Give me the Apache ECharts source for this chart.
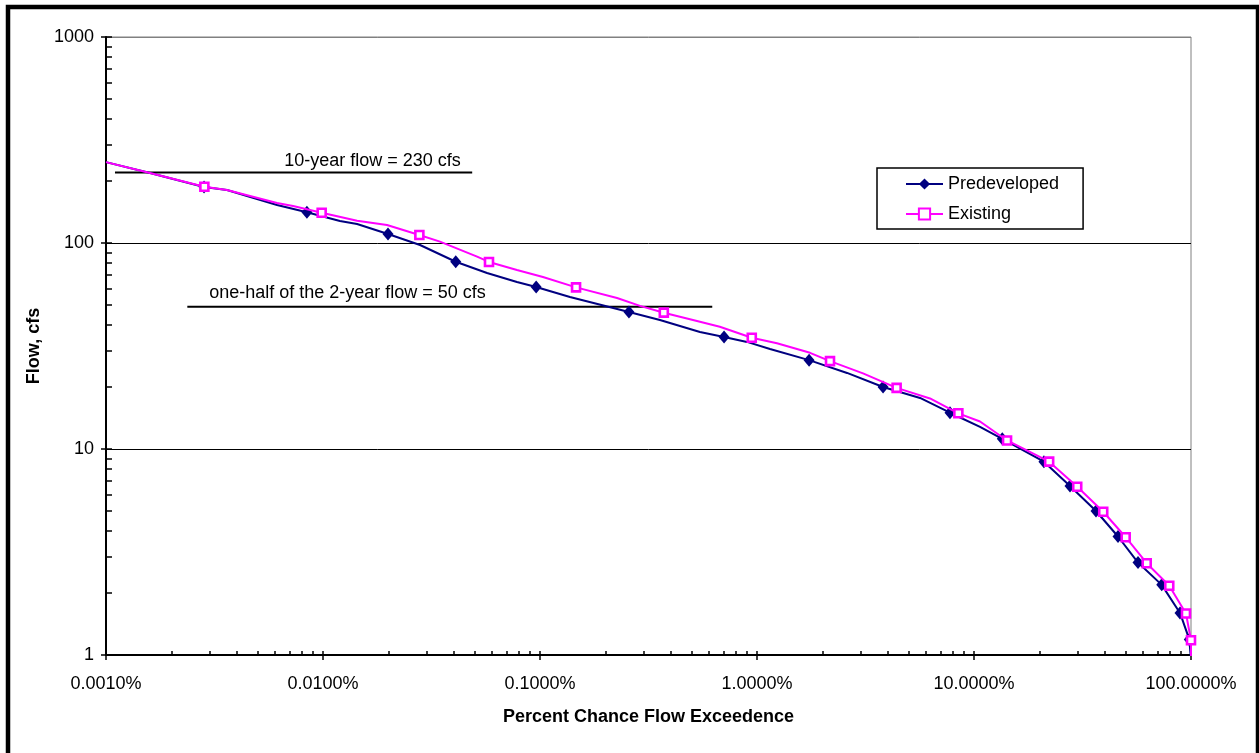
<!DOCTYPE html>
<html><head><meta charset="utf-8">
<script src="https://cdn.jsdelivr.net/npm/echarts@6/dist/echarts.min.js"></script>
<style>html,body{margin:0;padding:0;background:#fff}#c{width:1259px;height:753px}</style>
</head><body><div id="c"></div>
<script>
// ---- data ----
const xMajor = [0.001, 0.01, 0.1, 1, 10, 100];
const yMajor = [1, 10, 100, 1000];

const predevX = [0.001, 0.001595, 0.00283, 0.00361, 0.00614, 0.00843, 0.01197, 0.01436, 0.01993, 0.028,
  0.0409, 0.057, 0.0783, 0.096, 0.1374, 0.257, 0.357, 0.546, 0.705, 0.899,
  1.148, 1.738, 2.60, 3.81, 5.64, 7.75, 10.66, 13.5, 21.0, 27.7,
  36.5, 46.1, 57.0, 73.3, 89.0, 98.2, 100];
const predevY = [247, 218.8, 187, 180.8, 152.9, 141, 127.9, 123.7, 110.6, 97.8,
  81.1, 71.5, 64.7, 61.1, 54.7, 46.2, 42.3, 37.0, 35.0, 33.1,
  30.6, 27.0, 23.4, 20.0, 17.7, 15.0, 12.8, 11.2, 8.68, 6.61,
  5.00, 3.76, 2.81, 2.19, 1.60, 1.19, 0.95];
const predevMarker = [0,0,1,0,0,1,0,0,1,0, 1,0,0,1,0,1,0,0,1,0, 0,1,0,1,0,1,0,1,1,1, 1,1,1,1,1,1,0];

const existX = [0.001, 0.001595, 0.00284, 0.00361, 0.00614, 0.00728, 0.00986, 0.01436, 0.01972, 0.0278,
  0.0346, 0.0513, 0.0582, 0.0783, 0.1032, 0.1466, 0.2265, 0.289, 0.372, 0.507,
  0.674, 0.946, 1.236, 1.755, 2.17, 3.08, 4.40, 6.27, 8.47, 10.66,
  14.2, 22.2, 29.9, 39.4, 50.0, 62.5, 79.4, 94.8, 100, 100];
const existY = [247, 218.8, 187.6, 180.8, 156.4, 151.3, 140.3, 128.3, 122.3, 109.3,
  101.5, 85.9, 80.9, 73.9, 68.4, 60.9, 54.1, 49.5, 45.9, 42.3,
  39.2, 34.7, 32.6, 29.3, 26.7, 23.3, 19.8, 17.6, 14.9, 13.6,
  11.0, 8.68, 6.56, 4.96, 3.73, 2.79, 2.17, 1.59, 1.18, 0.95];
const existMarker = [0,0,1,0,0,0,1,0,0,1, 0,0,1,0,0,1,0,0,1,0, 0,1,0,0,1,0,1,0,1,0, 1,1,1,1,1,1,1,1,1,0];

const tenYearX = [0.0011, 0.0487];
const tenYearY = [220, 220];
const halfTwoYearX = [0.00237, 0.622];
const halfTwoYearY = [49, 49];

const annotTexts = ['10-year flow = 230 cfs', 'one-half of the 2-year flow = 50 cfs'];
const annotX = [0.0169, 0.01297];
const annotY = [250, 57.2];

// ---- build ----
const FONT = '"Liberation Sans", Arial, sans-serif';
const mult = [1,2,3,4,5,6,7,8,9];
const xMinor = [], yMinor = [];
xMajor.slice(0, -1).forEach(d => mult.forEach(m => xMinor.push(d * m)));
xMinor.push(100);
yMajor.slice(0, -1).forEach(d => mult.forEach(m => yMinor.push(d * m)));
yMinor.push(1000);

function mkData(xs, ys, mk) {
  return xs.map((x, i) => mk[i] ? [x, ys[i]] : { value: [x, ys[i]], symbol: 'none' });
}

const chart = echarts.init(document.getElementById('c'), null, { renderer: 'canvas' });
const option = {
  backgroundColor: '#fff',
  animation: false,
  textStyle: { fontFamily: FONT },
  grid: { left: 106, right: 68, top: 37, bottom: 98, show: true, borderColor: '#808080', borderWidth: 1 },
  legend: {
    orient: 'vertical', left: 877, top: 168,
    padding: [7, 24, 6, 28], itemGap: 12, itemWidth: 37, itemHeight: 14,
    borderColor: '#000', borderWidth: 1.5, backgroundColor: '#fff',
    textStyle: { fontSize: 18, color: '#000', fontFamily: FONT },
    data: ['Predeveloped', 'Existing']
  },
  xAxis: [{
    type: 'log', logBase: 10, min: 0.001, max: 100, position: 'bottom',
    name: 'Percent Chance Flow Exceedence', nameLocation: 'middle', nameGap: 53,
    nameTextStyle: { fontSize: 18, fontWeight: 'bold', color: '#000', fontFamily: FONT },
    axisLine: { show: true, lineStyle: { color: '#000', width: 2 } },
    axisTick: { show: true, inside: false, length: 5, lineStyle: { color: '#000', width: 1.5 }, customValues: xMajor },
    axisLabel: { show: true, fontSize: 18, color: '#000', margin: 20, customValues: xMajor,
      formatter: v => v.toFixed(4) + '%' },
    splitLine: { show: false }, minorTick: { show: false }
  }, {
    type: 'log', logBase: 10, min: 0.001, max: 100, position: 'bottom',
    axisLine: { show: false }, axisLabel: { show: false }, splitLine: { show: false },
    axisTick: { show: true, inside: true, length: 4, lineStyle: { color: '#000', width: 1.5 }, customValues: xMinor }
  }],
  yAxis: [{
    type: 'log', logBase: 10, min: 1, max: 1000, position: 'left',
    name: 'Flow, cfs', nameLocation: 'middle', nameGap: 62,
    nameTextStyle: { fontSize: 18, fontWeight: 'bold', color: '#000', fontFamily: FONT },
    axisLine: { show: true, lineStyle: { color: '#000', width: 2 } },
    axisTick: { show: true, inside: false, length: 5, lineStyle: { color: '#000', width: 1.5 }, customValues: yMajor },
    axisLabel: { show: true, fontSize: 18, color: '#000', margin: 12, customValues: yMajor,
      formatter: v => String(Math.round(v)) },
    splitLine: { show: true, lineStyle: { color: ['#000', '#000', '#000', '#808080'], width: 1 } },
    minorTick: { show: false }
  }, {
    type: 'log', logBase: 10, min: 1, max: 1000, position: 'left',
    axisLine: { show: false }, axisLabel: { show: false }, splitLine: { show: false },
    axisTick: { show: true, inside: true, length: 6, lineStyle: { color: '#000', width: 1.5 }, customValues: yMinor }
  }],
  series: [{
    name: 'ref10', type: 'line', xAxisIndex: 0, yAxisIndex: 0, symbol: 'none', silent: true,
    data: tenYearX.map((x, i) => [x, tenYearY[i]]),
    lineStyle: { color: '#000', width: 2 }, z: 3
  }, {
    name: 'ref2', type: 'line', xAxisIndex: 0, yAxisIndex: 0, symbol: 'none', silent: true,
    data: halfTwoYearX.map((x, i) => [x, halfTwoYearY[i]]),
    lineStyle: { color: '#000', width: 2 }, z: 3
  }, {
    name: 'Predeveloped', type: 'line', xAxisIndex: 0, yAxisIndex: 0,
    symbol: 'diamond', symbolSize: [11, 13], showAllSymbol: true,
    data: mkData(predevX, predevY, predevMarker),
    lineStyle: { color: '#000080', width: 2 },
    itemStyle: { color: '#000080', borderColor: '#000080', borderWidth: 0 }, z: 4
  }, {
    name: 'Existing', type: 'line', xAxisIndex: 0, yAxisIndex: 0,
    symbol: 'rect', symbolSize: 8, showAllSymbol: true,
    data: mkData(existX, existY, existMarker),
    lineStyle: { color: '#FF00FF', width: 2 },
    itemStyle: { color: '#fff', borderColor: '#FF00FF', borderWidth: 2.6 }, z: 5
  }]
};
chart.setOption(option);

const graphics = [{
  type: 'rect', id: 'frame', silent: true, z: 100,
  shape: { x: 8, y: 7, width: 1250, height: 760 },
  style: { fill: 'none', stroke: '#000', lineWidth: 4.5 }
}];
annotTexts.forEach((t, i) => {
  const p = chart.convertToPixel({ xAxisIndex: 0, yAxisIndex: 0 }, [annotX[i], annotY[i]]);
  graphics.push({
    type: 'text', id: 'annot' + i, silent: true, z: 50, x: p[0], y: p[1],
    style: { text: t, fill: '#000', font: '18px ' + FONT, textAlign: 'center', textVerticalAlign: 'middle' }
  });
});
chart.setOption({ graphic: graphics });
</script></body></html>
